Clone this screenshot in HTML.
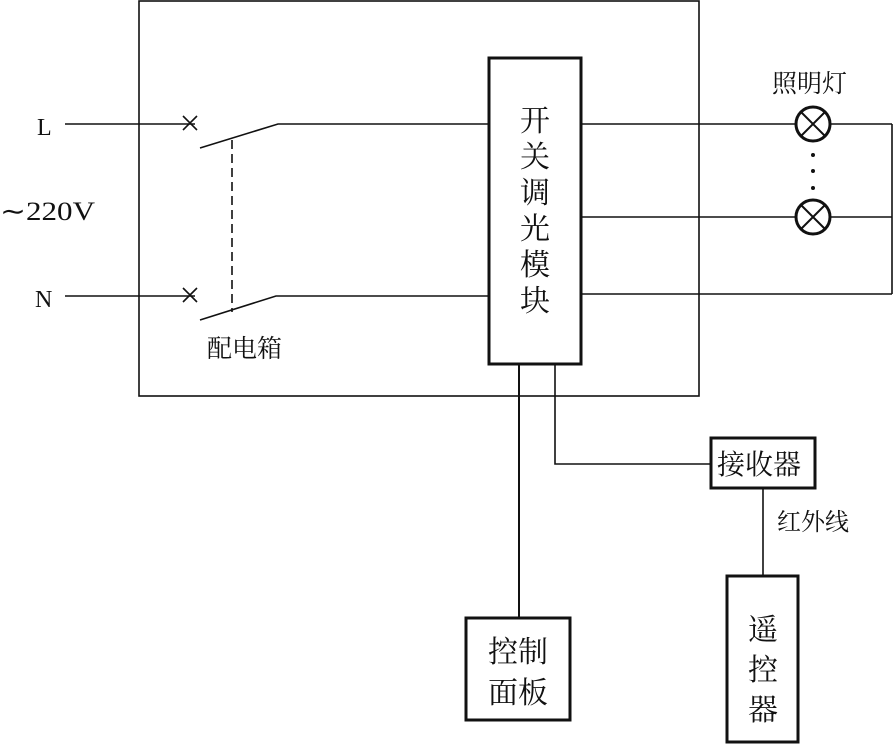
<!DOCTYPE html>
<html><head><style>
body{margin:0;background:#fff}
svg text{font-family:"Liberation Serif","Noto Serif CJK SC",serif;fill:#111}
</style></head><body>
<svg width="894" height="744" viewBox="0 0 894 744" xmlns="http://www.w3.org/2000/svg">
<g stroke="#111" fill="none" stroke-width="1.6">
<rect x="139" y="1" width="560" height="395"/>
<rect x="489" y="58" width="92" height="306" stroke-width="3"/>
<line x1="65" y1="124" x2="195" y2="124"/>
<line x1="65" y1="296" x2="195" y2="296"/>
<path d="M183 116 l14 14 M197 116 l-14 14 M183 288 l14 14 M197 288 l-14 14"/>
<path d="M200 148 L278 124 L489 124"/>
<path d="M200 320 L276 296 L489 296"/>
<line x1="232" y1="140" x2="232" y2="312" stroke-dasharray="9,5"/>
<line x1="581" y1="124" x2="892" y2="124"/>
<line x1="581" y1="217" x2="892" y2="217"/>
<line x1="581" y1="294" x2="892" y2="294"/>
<line x1="892" y1="124" x2="892" y2="294"/>
<circle cx="813" cy="124" r="17" fill="#fff" stroke-width="3"/>
<circle cx="813" cy="217" r="17" fill="#fff" stroke-width="3"/>
<path d="M801 112 l24 24 M825 112 l-24 24 M801 205 l24 24 M825 205 l-24 24" stroke-width="2"/>
<line x1="519" y1="364" x2="519" y2="618" stroke-width="2"/>
<path d="M555 364 L555 464 L711 464"/>
<rect x="466" y="618" width="104" height="102" stroke-width="3"/>
<rect x="711" y="438" width="104" height="50" stroke-width="3"/>
<line x1="763" y1="488" x2="763" y2="576"/>
<rect x="727" y="576" width="71" height="166" stroke-width="3"/>
</g>
<g fill="#111"><circle cx="813" cy="155" r="2"/><circle cx="813" cy="171" r="2"/><circle cx="813" cy="188" r="2"/></g>
<text x="37" y="135" font-size="24">L</text>
<text x="35" y="307" font-size="24">N</text>
<text x="0" y="220" font-size="26" textLength="95" lengthAdjust="spacingAndGlyphs">∼220V</text>
<text x="207" y="357" font-size="25">配电箱</text>
<text x="772" y="92" font-size="25">照明灯</text>
<text x="777" y="530" font-size="24">红外线</text>
<text x="717" y="474" font-size="28">接收器</text>
<g font-size="30" text-anchor="middle">
<text x="535" y="131">开</text><text x="535" y="167">关</text><text x="535" y="203">调</text>
<text x="535" y="239">光</text><text x="535" y="275">模</text><text x="535" y="311">块</text>
<text x="518" y="662">控制</text><text x="518" y="703">面板</text>
<text x="763" y="640">遥</text><text x="763" y="680">控</text><text x="763" y="720">器</text>
</g>
</svg>
</body></html>
